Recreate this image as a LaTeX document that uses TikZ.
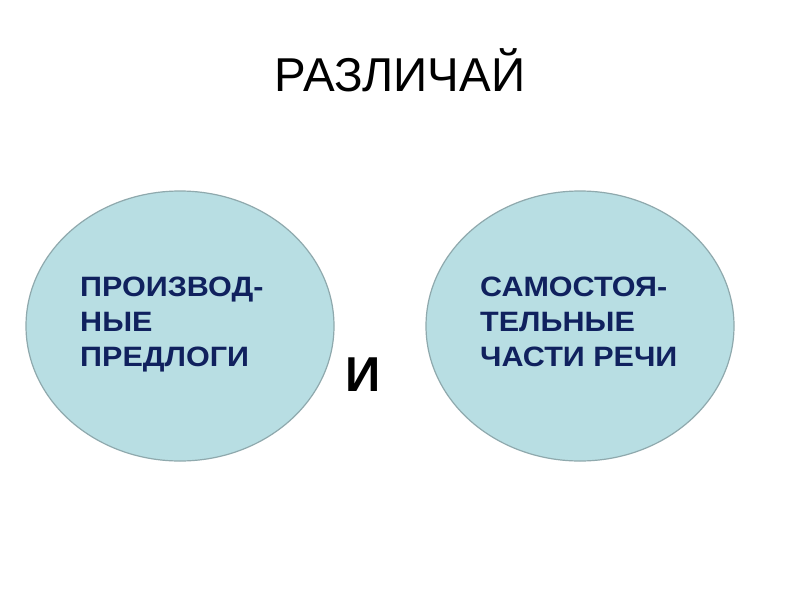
\documentclass[tikz,border=0pt]{standalone}
\usepackage{fontspec}
\setmainfont{Liberation Sans}
\usetikzlibrary{shapes.geometric}
\definecolor{fillblue}{HTML}{B8DEE3}
\definecolor{edgegray}{HTML}{8FA9AD}
\definecolor{navy}{HTML}{10215E}
\tikzset{
  bubble/.style={ellipse, draw=edgegray, line width=1.2pt, fill=fillblue, inner sep=0pt, minimum width=308pt, minimum height=270pt},
  bubbletext/.style={anchor=north west, inner sep=0pt, align=left, text=navy, xscale=1.09, transform shape, font=\fontsize{28}{35}\selectfont\bfseries}
}
\begin{document}
\begin{tikzpicture}[x=1pt,y=-1pt]
\useasboundingbox (0,0) rectangle (800,600);
\fill[white] (0,0) rectangle (800,600);
\node[font=\fontsize{47.5}{56}\selectfont, anchor=base, inner sep=0pt] (title) at (400,91) {РАЗЛИЧАЙ};
\node[bubble] (left) at (180,326) {};
\node[bubble] (right) at (580,326) {};
\node[bubbletext] (lefttext) at (80,277) {ПРОИЗВОД-\\НЫЕ\\ПРЕДЛОГИ};
\node[bubbletext] (righttext) at (480,277) {САМОСТОЯ-\\ТЕЛЬНЫЕ\\ЧАСТИ РЕЧИ};
\node[font=\fontsize{49}{60}\selectfont\bfseries, anchor=base, inner sep=0pt] (and) at (363,391) {И};
\end{tikzpicture}
\end{document}
